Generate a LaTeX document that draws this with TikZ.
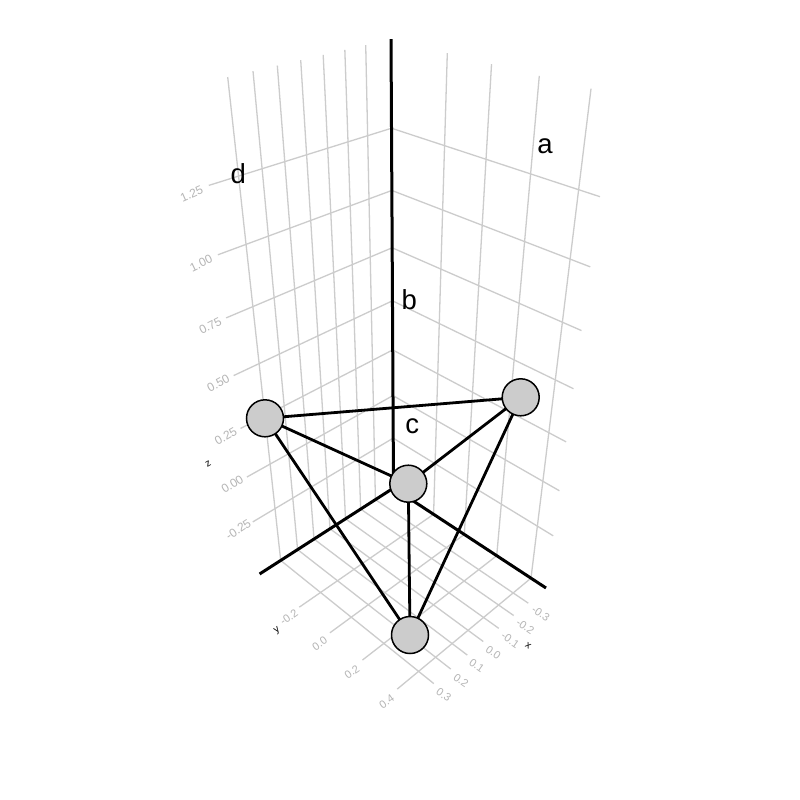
\documentclass[tikz,border=0pt]{standalone}
\usepackage{fontspec}
\setmainfont{Liberation Sans}
\definecolor{gridc}{HTML}{CCCCCC}
\definecolor{tickc}{HTML}{B5B5B5}
\definecolor{ballc}{HTML}{CCCCCC}
\newcommand\boxpt[4]{\coordinate (#1) at ({(393.5-162.2*(#2)+85.89*(#3)-111.59*(#4))/(1-0.109*(#2)-0.122*(#3)-0.279*(#4))},{(488+23.43*(#2)+28.26*(#3)-459.74*(#4))/(1-0.109*(#2)-0.122*(#3)-0.279*(#4))});}
\begin{document}
\begin{tikzpicture}[x=1pt,y=-1pt,
  gridline/.style={draw=gridc, line width=1.3pt},
  boxedge/.style={draw=black, line width=3pt},
  graphedge/.style={draw=black, line width=2.8pt},
  ball/.style={circle, draw=black, line width=1.5pt, fill=ballc, minimum size=37pt, inner sep=0pt},
  lab/.style={font=\fontsize{27.5}{30}\selectfont, inner sep=0pt},
  tick/.style={font=\fontsize{11}{12}\selectfont, text=tickc, inner sep=0pt},
  ztick/.style={font=\fontsize{12}{13}\selectfont, text=tickc, inner sep=0pt},
  axtitle/.style={font=\fontsize{10}{11}\selectfont, text=black, inner sep=0pt}]
\useasboundingbox (0,0) rectangle (800,800);
\fill[white] (0,0) rectangle (800,800);
% box corners
\boxpt{B}{0}{0}{0}
\boxpt{L}{1}{0}{0}
\boxpt{R}{0}{1}{0}
\boxpt{T}{0}{0}{1}
% x grid lines (left wall verticals and floor)
\foreach \u [count=\i] in {0.1491,0.2671,0.3851,0.5031,0.6211,0.7391,0.8571}{
  \boxpt{xa\i}{\u}{0}{0}
  \boxpt{xb\i}{\u}{1}{0}
  \boxpt{xc\i}{\u}{0}{1}
  \draw[gridline] (xa\i) -- (xb\i);
  \draw[gridline] (xa\i) -- (xc\i);
}
% y grid lines (right wall verticals and floor)
\foreach \v [count=\i] in {0.2890,0.4969,0.7048,0.9127}{
  \boxpt{ya\i}{0}{\v}{0}
  \boxpt{yb\i}{1}{\v}{0}
  \boxpt{yc\i}{0}{\v}{1}
  \draw[gridline] (ya\i) -- (yb\i);
  \draw[gridline] (ya\i) -- (yc\i);
}
% z grid lines (both walls)
\foreach \w [count=\i] in {0.1477,0.2645,0.3813,0.4981,0.6150,0.7318,0.8486}{
  \boxpt{za\i}{0}{0}{\w}
  \boxpt{zb\i}{1}{0}{\w}
  \boxpt{zc\i}{0}{1}{\w}
  \draw[gridline] (zb\i) -- (za\i) -- (zc\i);
}
% box edges
\draw[boxedge] (L) -- (B) -- (R);
\draw[boxedge] (B) -- (T);
% z tick labels
\node[ztick, rotate=24] (tz7) at (191.7,193.7) {1.25};
\node[ztick, rotate=26] (tz6) at (201,263.3) {1.00};
\node[ztick, rotate=27] (tz5) at (210.3,326) {0.75};
\node[ztick, rotate=28] (tz4) at (218.3,383) {0.50};
\node[ztick, rotate=29.5] (tz3) at (225.7,436) {0.25};
\node[ztick, rotate=31.5] (tz2) at (232.3,484.3) {0.00};
\node[ztick, rotate=33.5] (tz1) at (238.3,529.7) {-0.25};
\node[axtitle, rotate=30] (zt) at (208.3,464) {z};
% y tick labels
\node[tick, rotate=35] (ty1) at (289,617.3) {-0.2};
\node[tick, rotate=35] (ty2) at (319.7,643.7) {0.0};
\node[tick, rotate=35] (ty3) at (352,672) {0.2};
\node[tick, rotate=35] (ty4) at (386.7,701.7) {0.4};
\node[axtitle, rotate=35] (yt) at (277.3,630.7) {y};
% x tick labels
\node[tick, rotate=-35] (tx1) at (540.7,613.7) {-0.3};
\node[tick, rotate=-35] (tx2) at (525.3,626.7) {-0.2};
\node[tick, rotate=-35] (tx3) at (510.3,640) {-0.1};
\node[tick, rotate=-35] (tx4) at (493.3,652.3) {0.0};
\node[tick, rotate=-35] (tx5) at (476.7,665.7) {0.1};
\node[tick, rotate=-35] (tx6) at (461,680.3) {0.2};
\node[tick, rotate=-35] (tx7) at (443.7,695) {0.3};
\node[axtitle, rotate=-35] (xt) at (528.3,646) {x};
% graph
\coordinate (p1) at (265,418.3);
\coordinate (p2) at (520.7,397.3);
\coordinate (p3) at (408.3,483.7);
\coordinate (p4) at (410,635);
\draw[graphedge] (p1) -- (p2);
\draw[graphedge] (p1) -- (p3);
\draw[graphedge] (p1) -- (p4);
\draw[graphedge] (p2) -- (p3);
\draw[graphedge] (p2) -- (p4);
\draw[graphedge] (p3) -- (p4);
\node[ball] (v1) at (p1) {};
\node[ball] (v2) at (p2) {};
\node[ball] (v3) at (p3) {};
\node[ball] (v4) at (p4) {};
% labels
\node[lab] (la) at (545,146) {a};
\node[lab] (lb) at (409.3,300) {b};
\node[lab] (lc) at (412.3,426.7) {c};
\node[lab] (ld) at (238.3,174) {d};
\end{tikzpicture}
\end{document}
